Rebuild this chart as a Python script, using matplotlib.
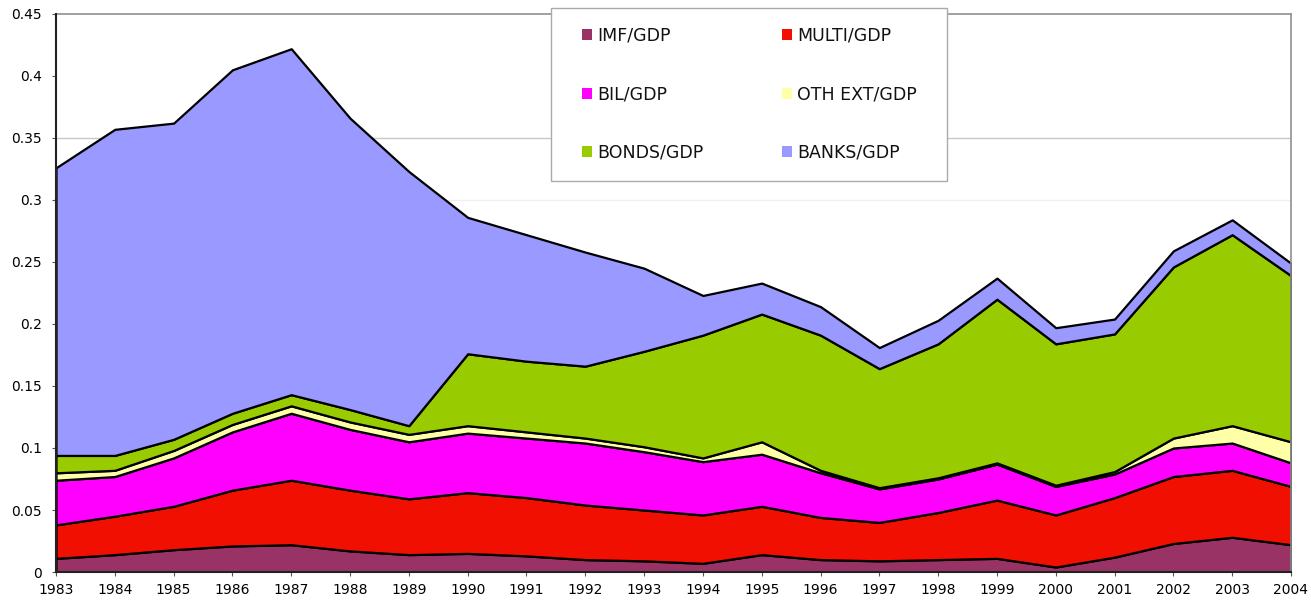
import matplotlib
matplotlib.use("Agg")
import matplotlib.pyplot as plt
from matplotlib.patches import Patch, Rectangle
import numpy as np

years = list(range(1983, 2005))
imf = [0.011, 0.014, 0.018, 0.021, 0.022, 0.017, 0.014, 0.015, 0.013, 0.010, 0.009,
       0.007, 0.014, 0.010, 0.009, 0.010, 0.011, 0.004, 0.012, 0.023, 0.028, 0.022]
multi = [0.027, 0.031, 0.035, 0.045, 0.052, 0.049, 0.045, 0.049, 0.047, 0.044, 0.041,
         0.039, 0.039, 0.034, 0.031, 0.038, 0.047, 0.042, 0.048, 0.054, 0.054, 0.047]
bil = [0.036, 0.032, 0.039, 0.047, 0.054, 0.049, 0.046, 0.048, 0.048, 0.050, 0.047,
       0.043, 0.042, 0.036, 0.027, 0.027, 0.029, 0.023, 0.019, 0.023, 0.022, 0.019]
oth_ext = [0.006, 0.005, 0.006, 0.006, 0.006, 0.006, 0.006, 0.006, 0.005, 0.004, 0.004,
           0.003, 0.010, 0.002, 0.001, 0.001, 0.001, 0.001, 0.002, 0.008, 0.014, 0.017]
bonds = [0.014, 0.012, 0.009, 0.009, 0.009, 0.010, 0.007, 0.058, 0.057, 0.058, 0.077,
         0.099, 0.103, 0.109, 0.096, 0.108, 0.132, 0.114, 0.111, 0.138, 0.154, 0.134]
banks = [0.232, 0.263, 0.255, 0.277, 0.279, 0.235, 0.205, 0.110, 0.102, 0.092, 0.067,
         0.032, 0.025, 0.023, 0.017, 0.019, 0.017, 0.013, 0.012, 0.013, 0.012, 0.010]

labels = ["IMF/GDP", "MULTI/GDP", "BIL/GDP", "OTH EXT/GDP", "BONDS/GDP", "BANKS/GDP"]
colors = ["#993366", "#F00F00", "#FF00FF", "#FFFFA8", "#99CC00", "#9999FF"]
y_ticks = [0, 0.05, 0.1, 0.15, 0.2, 0.25, 0.3, 0.35, 0.4, 0.45]
y_tick_labels = ["0", "0.05", "0.1", "0.15", "0.2", "0.25", "0.3", "0.35", "0.4", "0.45"]

W, H = 1311, 604
fig = plt.figure(figsize=(W / 100, H / 100), dpi=100)
ax = fig.add_axes([56 / W, 1 - 572 / H, (1291 - 56) / W, (572 - 14) / H])

ax.axhline(0.35, color="#c8c8c8", lw=1.0, zorder=0)
ax.axhline(0.30, color="#efefef", lw=1.0, zorder=0)

ax.stackplot(years, imf, multi, bil, oth_ext, bonds, banks, colors=colors,
             edgecolor="black", linewidth=1.6, zorder=2)

ax.set_xlim(1983, 2004)
ax.set_ylim(0, 0.45)
ax.set_xticks(years)
ax.set_xticklabels([str(y) for y in years])
ax.set_yticks(y_ticks)
ax.set_yticklabels(y_tick_labels)
ax.tick_params(axis="both", labelsize=10, length=3, color="#555555")
ax.tick_params(axis="y", pad=7)
ax.tick_params(axis="x", pad=5)

for s in ["top", "right"]:
    ax.spines[s].set_color("#909090")
    ax.spines[s].set_linewidth(1.2)
for s in ["left", "bottom"]:
    ax.spines[s].set_color("#222222")
    ax.spines[s].set_linewidth(1.5)
    ax.spines[s].set_zorder(5)

# legend frame
fig.patches.append(Rectangle((551 / W, 1 - 181 / H), (947 - 551) / W, (181 - 8) / H,
                             transform=fig.transFigure, facecolor="white",
                             edgecolor="#aaaaaa", linewidth=1.0, zorder=3))

handles = [Patch(facecolor=c, edgecolor="none") for c in colors]
order = [0, 2, 4, 1, 3, 5]
leg = fig.legend([handles[i] for i in order], [labels[i] for i in order],
                 loc="upper left", bbox_to_anchor=(582 / W, 1 - 27 / H),
                 ncol=2, fontsize=12.5, handlelength=0.6, handleheight=0.6,
                 handletextpad=0.3, labelspacing=2.33, columnspacing=4.48,
                 borderpad=0, borderaxespad=0, frameon=False)
leg.set_zorder(4)
for t in leg.get_texts():
    t.set_color("#111111")

fig.savefig("out.png", dpi=100)
